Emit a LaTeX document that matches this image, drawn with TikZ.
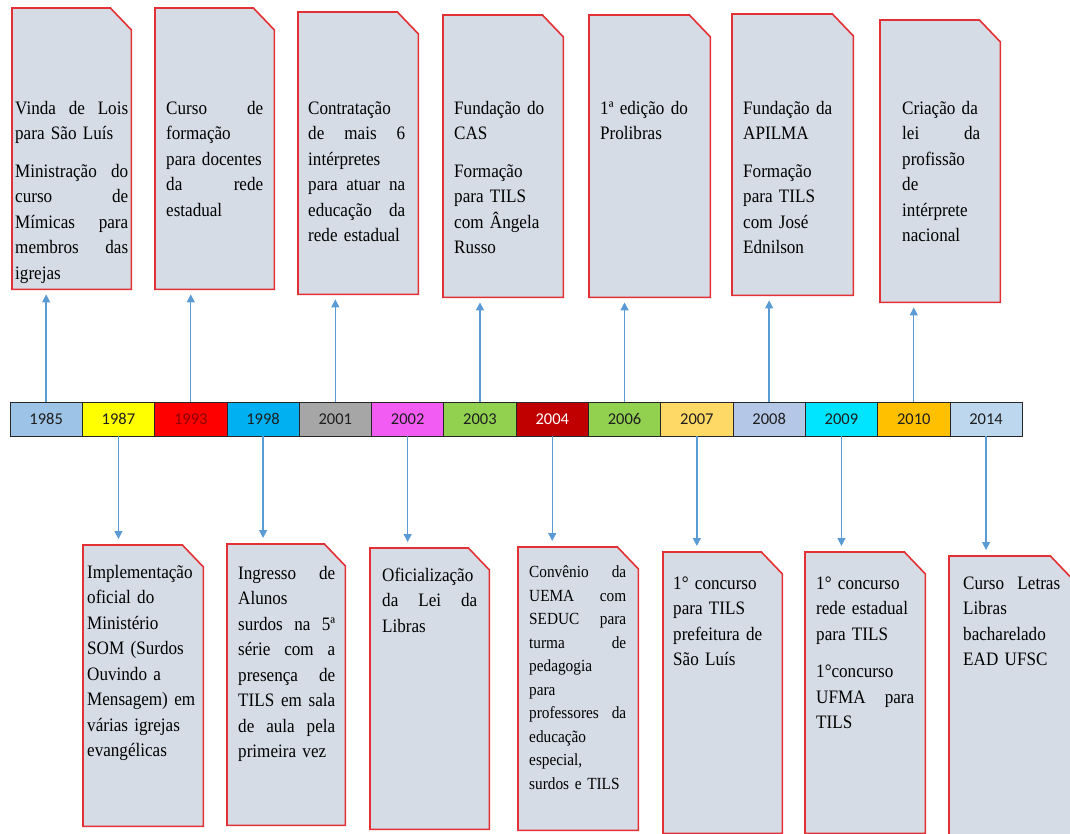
\documentclass[tikz,border=0pt]{standalone}
\usepackage{fontspec}
\setmainfont[FakeStretch=0.9]{Liberation Serif}
\newfontfamily\yearfont{Carlito}
\usetikzlibrary{arrows.meta}

\definecolor{cardred}{RGB}{226,48,52}
\definecolor{cardfill}{RGB}{214,220,229}
\definecolor{arrblue}{RGB}{91,155,213}
\definecolor{yeartxt}{RGB}{30,30,30}
\definecolor{c1985}{RGB}{157,195,230}
\definecolor{c1987}{RGB}{255,255,0}
\definecolor{c1993}{RGB}{255,0,0}
\definecolor{c1998}{RGB}{0,176,240}
\definecolor{c2001}{RGB}{166,166,166}
\definecolor{c2002}{RGB}{243,92,243}
\definecolor{c2003}{RGB}{146,208,80}
\definecolor{c2004}{RGB}{192,0,0}
\definecolor{c2006}{RGB}{146,208,80}
\definecolor{c2007}{RGB}{255,217,102}
\definecolor{c2008}{RGB}{180,199,231}
\definecolor{c2009}{RGB}{0,229,255}
\definecolor{c2010}{RGB}{255,192,0}
\definecolor{c2014}{RGB}{189,215,238}

\begin{document}
\begin{tikzpicture}[x=1pt, y=-1pt,
    cardbox/.style={anchor=north west, minimum width=120, inner sep=0},
    card/.style={draw=cardred, fill=cardfill, line width=1.6pt},
    cardtext/.style={anchor=north west, inner sep=0, align=left, text width=#1,
      font=\fontsize{19}{25.5}\selectfont, execute at begin node=\strut},
    yearcell/.style={draw=black!85, line width=0.8pt, minimum width=72.3,
      minimum height=34, inner sep=0, font=\yearfont\fontsize{16.5}{19}\selectfont},
    arr/.style={draw=arrblue, line width=1.4pt, -{Triangle[length=8pt,width=8pt]}},
]
\useasboundingbox (0,0) rectangle (1070,834);
\clip (0,0) rectangle (1070,834);

% cards above the line
\node[cardbox, minimum width=119, minimum height=281] (t1) at (12,8) {};
\node[cardbox, minimum width=119, minimum height=281] (t2) at (155,8) {};
\node[cardbox, minimum height=282] (t3) at (298,12) {};
\node[cardbox, minimum height=282] (t4) at (443,15) {};
\node[cardbox, minimum width=121, minimum height=282] (t5) at (589,15) {};
\node[cardbox, minimum width=121, minimum height=281] (t6) at (732,14) {};
\node[cardbox, minimum height=282] (t7) at (880,20) {};

% cards below the line
\node[cardbox, minimum height=281] (b1) at (83,545) {};
\node[cardbox, minimum width=118, minimum height=281] (b2) at (227,544) {};
\node[cardbox, minimum width=119, minimum height=281] (b3) at (370,548) {};
\node[cardbox, minimum height=283] (b4) at (518,547) {};
\node[cardbox, minimum width=119, minimum height=281] (b5) at (663,552) {};
\node[cardbox, minimum height=281] (b6) at (805,552) {};
\node[cardbox, minimum width=122, minimum height=285] (b7) at (949,556) {};

\foreach \c in {t1,t2,t3,t4,t5,t6,t7,b1,b2,b3,b4,b5,b6,b7}
  \draw[card] (\c.north west) -- ([xshift=-21pt]\c.north east)
    -- ([yshift=-22pt]\c.north east) -- (\c.south east) -- (\c.south west) -- cycle;

\node[cardtext=113] (t1txt) at (15,96) {Vinda\hfill de\hfill Lois\\ para São Luís\\[12pt]
  Ministração\hfill do\\ curso\hfill de\\ Mímicas\hfill para\\ membros\hfill das\\ igrejas};
\node[cardtext=97] (t2txt) at (166,96) {Curso\hfill de\\ formação\\ para docentes\\
  da\hfill rede\\ estadual};
\node[cardtext=97] (t3txt) at (308,96) {Contratação\\ de\hfill mais\hfill 6\\ intérpretes\\
  para\hfill atuar\hfill na\\ educação\hfill da\\ rede estadual};
\node[cardtext=98] (t4txt) at (454,96) {Fundação do\\ CAS\\[12pt] Formação\\ para TILS\\
  com Ângela\\ Russo};
\node[cardtext=98] (t5txt) at (600,96) {1ª edição do\\ Prolibras};
\node[cardtext=98] (t6txt) at (743,96) {Fundação da\\ APILMA\\[12pt] Formação\\ para TILS\\
  com José\\ Ednilson};
\node[cardtext=78] (t7txt) at (902,96) {Criação da\\ lei\hfill da\\ profissão\\ de\\
  intérprete\\ nacional};

\node[cardtext=110] (b1txt) at (87,560) {Implementação\\ oficial do\\ Ministério\\
  SOM (Surdos\\ Ouvindo a\\ Mensagem) em\\ várias igrejas\\ evangélicas};
\node[cardtext=97] (b2txt) at (238,561) {Ingresso\hfill de\\ Alunos\\ surdos\hfill na\hfill 5ª\\
  série\hfill com\hfill a\\ presença\hfill de\\ TILS\hfill em\hfill sala\\
  de\hfill aula\hfill pela\\ primeira vez};
\node[cardtext=95] (b3txt) at (382,563) {Oficialização\\ da\hfill Lei\hfill da\\ Libras};
\node[cardtext=97, font=\fontsize{17}{23.5}\selectfont] (b4txt) at (529,561)
  {Convênio\hfill da\\ UEMA\hfill com\\ SEDUC\hfill para\\ turma\hfill de\\ pedagogia\\
  para\\ professores\hfill da\\ educação\\ especial,\\ surdos e TILS};
\node[cardtext=97] (b5txt) at (673,571) {1° concurso\\ para TILS\\ prefeitura de\\ São Luís};
\node[cardtext=98] (b6txt) at (816,571) {1° concurso\\ rede estadual\\ para TILS\\[12pt]
  1°concurso\\ UFMA\hfill para\\ TILS};
\node[cardtext=97] (b7txt) at (963,571) {Curso\hfill Letras\\ Libras\\ bacharelado\\ EAD UFSC};

% the time line
\foreach \yr/\col/\tcol [count=\i from 0] in {1985/c1985/yeartxt, 1987/c1987/yeartxt,
    1993/c1993/red!55!black, 1998/c1998/yeartxt, 2001/c2001/yeartxt, 2002/c2002/yeartxt,
    2003/c2003/yeartxt, 2004/c2004/white, 2006/c2006/yeartxt, 2007/c2007/yeartxt,
    2008/c2008/yeartxt, 2009/c2009/yeartxt, 2010/c2010/yeartxt, 2014/c2014/yeartxt}
  \node[yearcell, fill=\col, text=\tcol] (y\yr) at ({46.15+72.3*\i},419) {\yr};

\foreach \yr/\c in {1985/t1, 1993/t2, 2001/t3, 2003/t4, 2006/t5, 2008/t6, 2010/t7}
  \draw[arr, shorten >=5pt] (y\yr.north) -- (y\yr.north |- \c.south);
\foreach \yr/\c in {1987/b1, 1998/b2, 2002/b3, 2004/b4, 2007/b5, 2009/b6, 2014/b7}
  \draw[arr, shorten >=6pt] (y\yr.south) -- (y\yr.south |- \c.north);

\end{tikzpicture}
\end{document}
